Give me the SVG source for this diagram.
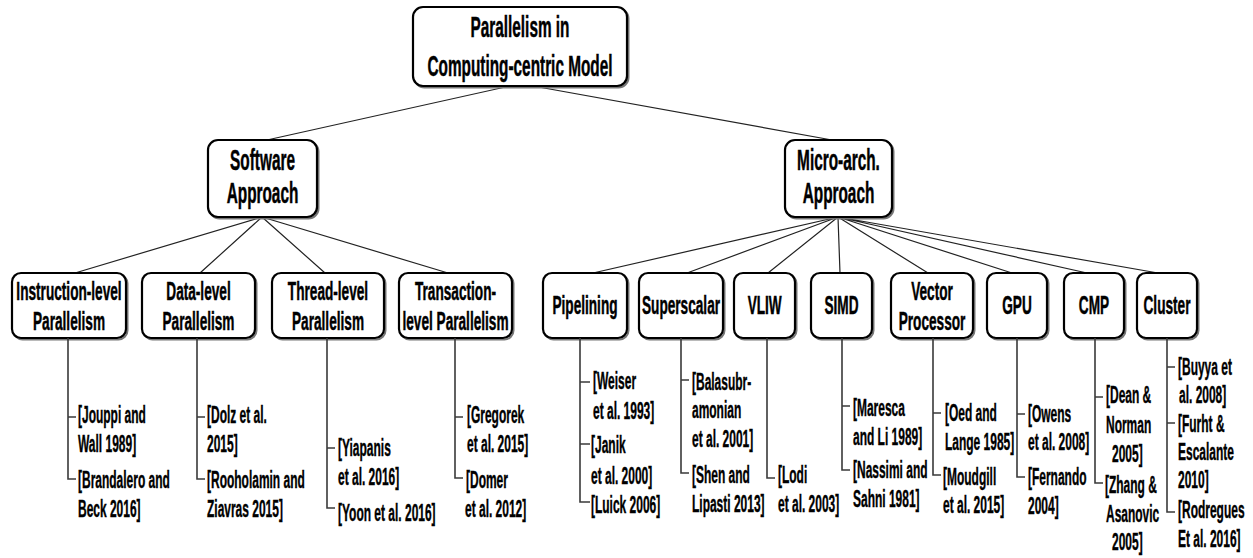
<svg xmlns="http://www.w3.org/2000/svg" width="1253" height="558" viewBox="0 0 1253 558">
<style>
.box{fill:#fff;stroke:#000;stroke-width:2.2}
.sh{fill:none;stroke:#777;stroke-width:2}
.t{font-family:"Liberation Sans",Arial,sans-serif;font-weight:bold;fill:#000;stroke:#000;stroke-width:0.5;text-anchor:middle;transform-box:fill-box;transform-origin:50% 50%}
.t1{font-size:29px;transform:scaleX(0.53)}
.t3{font-size:25.5px;transform:scaleX(0.535)}
.r{font-family:"Liberation Sans",Arial,sans-serif;font-weight:bold;font-size:23.5px;fill:#000;stroke:#000;stroke-width:0.4;transform-box:fill-box;transform-origin:0% 50%;transform:scaleX(0.51)}
.c{stroke:#222;stroke-width:1.2;fill:none}
.v{stroke:#3a3a3a;stroke-width:1.6;fill:none}
</style>
<g id="connectors">
<path class="c" d="M510 86L267 140M533 86L832 140"/>
<path class="c" d="M262 217L75 273M262 217L200 273M262 217L325 273M262 217L448 273"/>
<path class="c" d="M838 217L593 273M838 217L687 273M838 217L768 273M838 217L840 273M838 217L928 273M838 217L1012 273M838 217L1087 273M838 217L1158 273"/>
</g>
<g id="root">
<rect class="sh" x="414.5" y="8.5" width="214" height="79" rx="10"/>
<rect class="box" x="413" y="7" width="214" height="79" rx="10"/>
<text class="t t1" x="520" y="37">Parallelism in</text>
<text class="t t1" x="520" y="76">Computing-centric Model</text>
</g>
<g id="software">
<rect class="sh" x="209.5" y="141.5" width="109" height="77" rx="10"/>
<rect class="box" x="208" y="140" width="109" height="77" rx="10"/>
<text class="t t1" x="262.5" y="170">Software</text>
<text class="t t1" x="262.5" y="203">Approach</text>
</g>
<g id="microarch">
<rect class="sh" x="786.5" y="141.5" width="107" height="77" rx="10"/>
<rect class="box" x="785" y="140" width="107" height="77" rx="10"/>
<text class="t t1" x="838.5" y="170">Micro-arch.</text>
<text class="t t1" x="838.5" y="203">Approach</text>
</g>
<g id="ilp">
<rect class="sh" x="13.5" y="274.5" width="114" height="65" rx="9"/>
<rect class="box" x="12" y="273" width="114" height="65" rx="9"/>
<text class="t t3" x="69" y="300">Instruction-level</text>
<text class="t t3" x="69" y="330">Parallelism</text>
<path class="v" d="M68 338V479H76M68 417H76"/>
<text class="r" x="78" y="423">[Jouppi and</text>
<text class="r" x="78" y="452">Wall 1989]</text>
<text class="r" x="78" y="488">[Brandalero and</text>
<text class="r" x="78" y="517">Beck 2016]</text>
</g>
<g id="dlp">
<rect class="sh" x="143.5" y="274.5" width="113" height="65" rx="9"/>
<rect class="box" x="142" y="273" width="113" height="65" rx="9"/>
<text class="t t3" x="198.5" y="300">Data-level</text>
<text class="t t3" x="198.5" y="330">Parallelism</text>
<path class="v" d="M197 338V479H205M197 417H205"/>
<text class="r" x="207" y="423">[Dolz et al.</text>
<text class="r" x="207" y="452">2015]</text>
<text class="r" x="207" y="488">[Rooholamin and</text>
<text class="r" x="207" y="517">Ziavras 2015]</text>
</g>
<g id="tlp">
<rect class="sh" x="273.5" y="274.5" width="112" height="65" rx="9"/>
<rect class="box" x="272" y="273" width="112" height="65" rx="9"/>
<text class="t t3" x="328" y="300">Thread-level</text>
<text class="t t3" x="328" y="330">Parallelism</text>
<path class="v" d="M327 338V508H335M327 448H335"/>
<text class="r" x="338" y="456">[Yiapanis</text>
<text class="r" x="338" y="485">et al. 2016]</text>
<text class="r" x="338" y="521">[Yoon et al. 2016]</text>
</g>
<g id="txlp">
<rect class="sh" x="400.5" y="274.5" width="113" height="65" rx="9"/>
<rect class="box" x="399" y="273" width="113" height="65" rx="9"/>
<text class="t t3" x="455.5" y="300">Transaction-</text>
<text class="t t3" x="455.5" y="330">level Parallelism</text>
<path class="v" d="M455 338V478H463M455 417H463"/>
<text class="r" x="467" y="423">[Gregorek</text>
<text class="r" x="467" y="452">et al. 2015]</text>
<text class="r" x="466" y="488">[Domer</text>
<text class="r" x="465" y="517">et al. 2012]</text>
</g>
<g id="pipelining">
<rect class="sh" x="544.5" y="274.5" width="84" height="65" rx="9"/>
<rect class="box" x="543" y="273" width="84" height="65" rx="9"/>
<text class="t t3" x="585" y="314">Pipelining</text>
<path class="v" d="M580 338V502H590M580 382H590M580 444H590"/>
<text class="r" x="593" y="389">[Weiser</text>
<text class="r" x="593" y="419">et al. 1993]</text>
<text class="r" x="591" y="453">[Janik</text>
<text class="r" x="591" y="484">et al. 2000]</text>
<text class="r" x="591" y="513">[Luick 2006]</text>
</g>
<g id="superscalar">
<rect class="sh" x="640.5" y="274.5" width="84" height="65" rx="9"/>
<rect class="box" x="639" y="273" width="84" height="65" rx="9"/>
<text class="t t3" x="681" y="314">Superscalar</text>
<path class="v" d="M681 338V473H689M681 380H689"/>
<text class="r" x="692" y="390">[Balasubr-</text>
<text class="r" x="692" y="418">amonian</text>
<text class="r" x="692" y="447">et al. 2001]</text>
<text class="r" x="692" y="483">[Shen and</text>
<text class="r" x="692" y="512">Lipasti 2013]</text>
</g>
<g id="vliw">
<rect class="sh" x="735.5" y="274.5" width="61" height="65" rx="9"/>
<rect class="box" x="734" y="273" width="61" height="65" rx="9"/>
<text class="t t3" x="764.5" y="314">VLIW</text>
<path class="v" d="M767 338V478H775"/>
<text class="r" x="778" y="483">[Lodi</text>
<text class="r" x="778" y="512">et al. 2003]</text>
</g>
<g id="simd">
<rect class="sh" x="812.5" y="274.5" width="61" height="65" rx="9"/>
<rect class="box" x="811" y="273" width="61" height="65" rx="9"/>
<text class="t t3" x="841.5" y="314">SIMD</text>
<path class="v" d="M842 338V470H850M842 406H850"/>
<text class="r" x="853" y="416">[Maresca</text>
<text class="r" x="853" y="445">and Li 1989]</text>
<text class="r" x="853" y="478">[Nassimi and</text>
<text class="r" x="853" y="507">Sahni 1981]</text>
</g>
<g id="vector">
<rect class="sh" x="892.5" y="274.5" width="82" height="65" rx="9"/>
<rect class="box" x="891" y="273" width="82" height="65" rx="9"/>
<text class="t t3" x="932" y="300">Vector</text>
<text class="t t3" x="932" y="330">Processor</text>
<path class="v" d="M933 338V475H941M933 413H941"/>
<text class="r" x="945" y="421">[Oed and</text>
<text class="r" x="945" y="450">Lange 1985]</text>
<text class="r" x="943" y="485">[Moudgill</text>
<text class="r" x="943" y="513">et al. 2015]</text>
</g>
<g id="gpu">
<rect class="sh" x="988.5" y="274.5" width="60" height="65" rx="9"/>
<rect class="box" x="987" y="273" width="60" height="65" rx="9"/>
<text class="t t3" x="1017" y="314">GPU</text>
<path class="v" d="M1017 338V477H1025M1017 414H1025"/>
<text class="r" x="1028" y="422">[Owens</text>
<text class="r" x="1028" y="450">et al. 2008]</text>
<text class="r" x="1028" y="485">[Fernando</text>
<text class="r" x="1028" y="514">2004]</text>
</g>
<g id="cmp">
<rect class="sh" x="1065.5" y="274.5" width="60" height="65" rx="9"/>
<rect class="box" x="1064" y="273" width="60" height="65" rx="9"/>
<text class="t t3" x="1094" y="314">CMP</text>
<path class="v" d="M1095 338V483H1103M1095 397H1103"/>
<text class="r" x="1106" y="403">[Dean &amp;</text>
<text class="r" x="1106" y="433">Norman</text>
<text class="r" x="1112" y="462">2005]</text>
<text class="r" x="1105" y="493">[Zhang &amp;</text>
<text class="r" x="1106" y="522">Asanovic</text>
<text class="r" x="1112" y="550">2005]</text>
</g>
<g id="cluster">
<rect class="sh" x="1138.5" y="274.5" width="60" height="65" rx="9"/>
<rect class="box" x="1137" y="273" width="60" height="65" rx="9"/>
<text class="t t3" x="1167" y="314">Cluster</text>
<path class="v" d="M1167 338V512H1175M1167 367H1175M1167 423H1175"/>
<text class="r" x="1178" y="375">[Buyya et</text>
<text class="r" x="1179" y="403">al. 2008]</text>
<text class="r" x="1178" y="432">[Furht &amp;</text>
<text class="r" x="1178" y="460">Escalante</text>
<text class="r" x="1178" y="488">2010]</text>
<text class="r" x="1178" y="518">[Rodregues</text>
<text class="r" x="1178" y="547">Et al. 2016]</text>
</g>
</svg>
